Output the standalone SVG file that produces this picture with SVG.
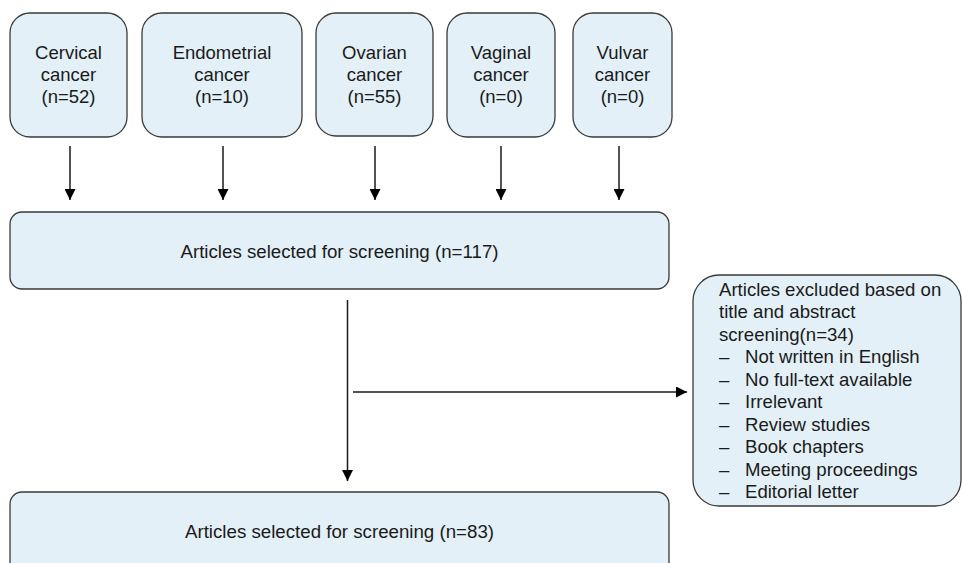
<svg xmlns="http://www.w3.org/2000/svg" width="962" height="563" viewBox="0 0 962 563">
<defs>
<style>
.box{fill:#e3f0f7;stroke:#3a3a3a;stroke-width:1.3}
.t{font-family:"Liberation Sans",Arial,sans-serif;font-size:18.5px;fill:#1a1a1a}
.c{text-anchor:middle}
.ln{stroke:#1a1a1a;stroke-width:1.5;fill:none}
</style>
<marker id="ah" viewBox="0 0 10 10" refX="10" refY="5" markerWidth="11" markerHeight="11" markerUnits="userSpaceOnUse" orient="auto">
<path d="M0,0 L10,5 L0,10 z" fill="#000"/>
</marker>
</defs>
<rect width="962" height="563" fill="#fff"/>
<g id="cervical">
<rect class="box" x="10" y="13" width="117" height="124" rx="20"/>
<text class="t c" x="68.5" y="59">Cervical</text>
<text class="t c" x="68.5" y="81">cancer</text>
<text class="t c" x="68.5" y="103">(n=52)</text>
</g>
<g id="endometrial">
<rect class="box" x="142" y="13" width="160" height="124" rx="20"/>
<text class="t c" x="222" y="59">Endometrial</text>
<text class="t c" x="222" y="81">cancer</text>
<text class="t c" x="222" y="103">(n=10)</text>
</g>
<g id="ovarian">
<rect class="box" x="316" y="13" width="117" height="123" rx="20"/>
<text class="t c" x="374.5" y="59">Ovarian</text>
<text class="t c" x="374.5" y="81">cancer</text>
<text class="t c" x="374.5" y="103">(n=55)</text>
</g>
<g id="vaginal">
<rect class="box" x="447" y="13" width="108" height="124" rx="20"/>
<text class="t c" x="501" y="59">Vaginal</text>
<text class="t c" x="501" y="81">cancer</text>
<text class="t c" x="501" y="103">(n=0)</text>
</g>
<g id="vulvar">
<rect class="box" x="573" y="13" width="99" height="124" rx="20"/>
<text class="t c" x="622.5" y="59">Vulvar</text>
<text class="t c" x="622.5" y="81">cancer</text>
<text class="t c" x="622.5" y="103">(n=0)</text>
</g>
<g id="screen117">
<rect class="box" x="10" y="212" width="659" height="77" rx="12"/>
<text class="t c" x="339.5" y="258" style="font-size:18.7px">Articles selected for screening (n=117)</text>
</g>
<g id="screen83">
<rect class="box" x="10" y="492" width="659" height="90" rx="12"/>
<text class="t c" x="339.5" y="538" style="font-size:18.7px">Articles selected for screening (n=83)</text>
</g>
<g id="excluded">
<rect class="box" x="693" y="275" width="268" height="231" rx="26"/>
<g class="t" style="font-size:18.6px">
<text x="719" y="295.5">Articles excluded based on</text>
<text x="719" y="318">title and abstract</text>
<text x="719" y="340.5">screening(n=34)</text>
<text x="719" y="363">–</text><text x="745" y="363">Not written in English</text>
<text x="719" y="385.5">–</text><text x="745" y="385.5">No full-text available</text>
<text x="719" y="408">–</text><text x="745" y="408">Irrelevant</text>
<text x="719" y="430.5">–</text><text x="745" y="430.5">Review studies</text>
<text x="719" y="453">–</text><text x="745" y="453">Book chapters</text>
<text x="719" y="475.5">–</text><text x="745" y="475.5">Meeting proceedings</text>
<text x="719" y="498">–</text><text x="745" y="498">Editorial letter</text>
</g>
</g>
<g id="connectors">
<line class="ln" x1="70" y1="146" x2="70" y2="200" marker-end="url(#ah)"/>
<line class="ln" x1="223" y1="146" x2="223" y2="200" marker-end="url(#ah)"/>
<line class="ln" x1="375" y1="146" x2="375" y2="200" marker-end="url(#ah)"/>
<line class="ln" x1="501" y1="146" x2="501" y2="200" marker-end="url(#ah)"/>
<line class="ln" x1="619" y1="146" x2="619" y2="200" marker-end="url(#ah)"/>
<line class="ln" x1="347.5" y1="300" x2="347.5" y2="481" marker-end="url(#ah)"/>
<line class="ln" x1="353" y1="392" x2="687" y2="392" marker-end="url(#ah)"/>
</g>
</svg>
